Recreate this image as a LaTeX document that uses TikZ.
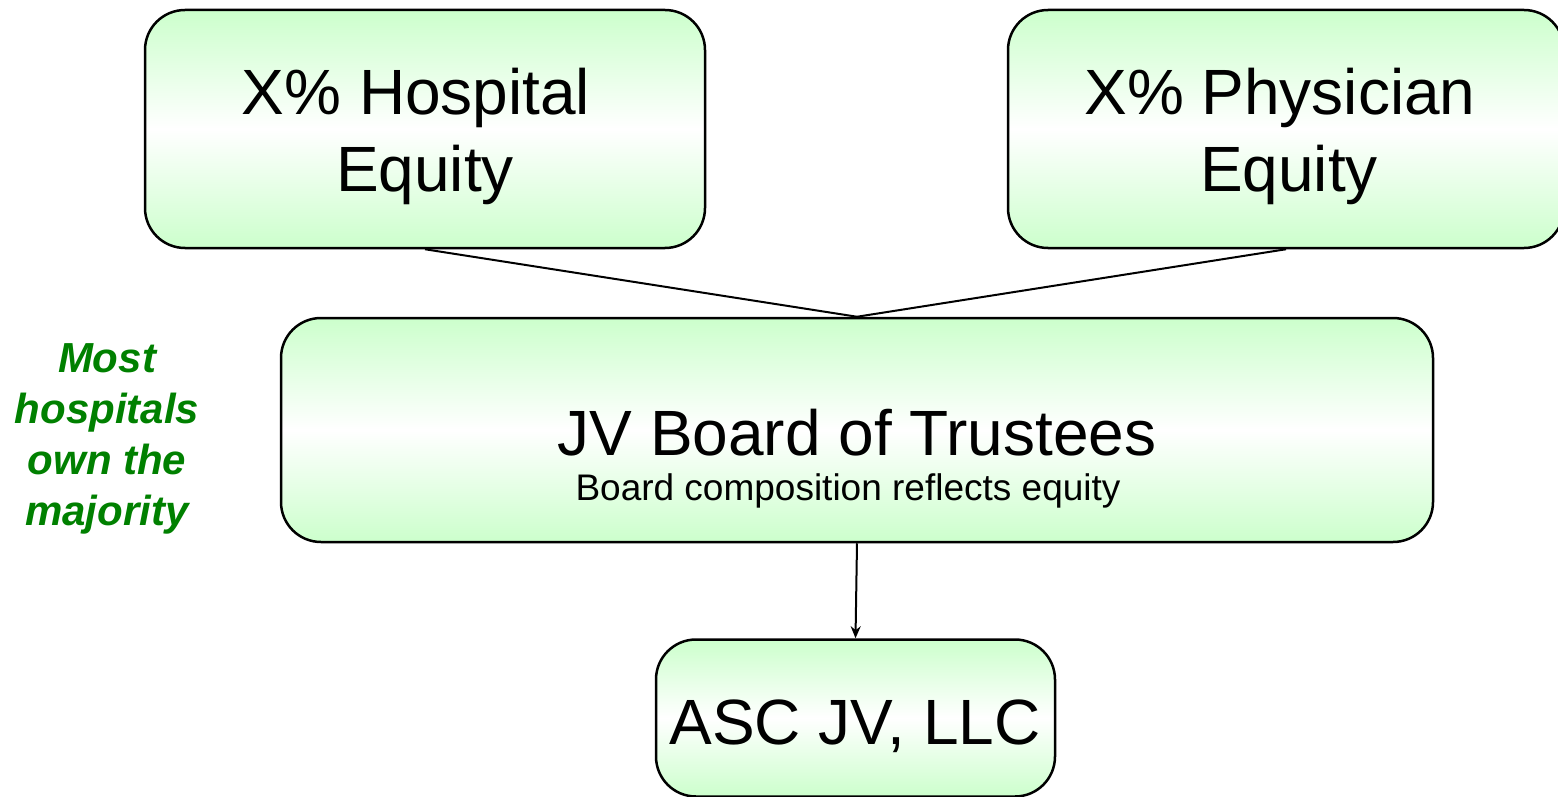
\documentclass[tikz,border=0pt]{standalone}
\usepackage{fontspec}
\setmainfont{Liberation Sans}
\usetikzlibrary{arrows.meta}
\definecolor{boxgreen}{RGB}{204,255,204}
\definecolor{notegreen}{RGB}{0,128,0}
\tikzset{
  box/.style={draw=black, line width=2.5pt, rounded corners=40pt,
    top color=boxgreen, bottom color=boxgreen, middle color=white,
    inner sep=0pt, anchor=center},
  bigtext/.style={font=\fontsize{64}{76}\selectfont, anchor=base, inner sep=0pt},
  smalltext/.style={font=\fontsize{37}{44}\selectfont, anchor=base, inner sep=0pt},
  notetext/.style={font=\fontsize{42}{51}\selectfont\bfseries\itshape, text=notegreen, align=center, anchor=base, inner sep=0pt},
  conn/.style={line width=2pt}
}
\begin{document}
\begin{tikzpicture}[x=1pt,y=-1pt]
\useasboundingbox (0,0) rectangle (1558,797);
\node[box, minimum width=560pt, minimum height=238pt] (hosp) at (425,129) {};
\node[box, minimum width=556pt, minimum height=238pt] (phys) at (1286,129) {};
\node[box, minimum width=1152pt, minimum height=224pt] (jv) at (857,430) {};
\node[box, minimum width=399pt, minimum height=157pt] (asc) at (855.5,718) {};
\node[bigtext] (hosp1) at (416,115) {X\% Hospital};
\node[bigtext] (hosp2) at (425,191) {Equity};
\node[bigtext] (phys1) at (1280,115) {X\% Physician};
\node[bigtext] (phys2) at (1289,191) {Equity};
\node[bigtext] (jvt) at (857,455) {JV Board of Trustees};
\node[smalltext] (jvs) at (848,500) {Board composition reflects equity};
\node[bigtext] (asct) at (855,744) {ASC JV, LLC};
\node[notetext] (note) at (107,525) {Most\\hospitals\\own the\\majority};
\draw[conn] (hosp.south) -- (jv.north);
\draw[conn] (phys.south) -- (jv.north);
\draw[conn, -{Stealth[length=12pt, width=10pt]}] (jv.south) -- (asc.north);
\end{tikzpicture}
\end{document}
